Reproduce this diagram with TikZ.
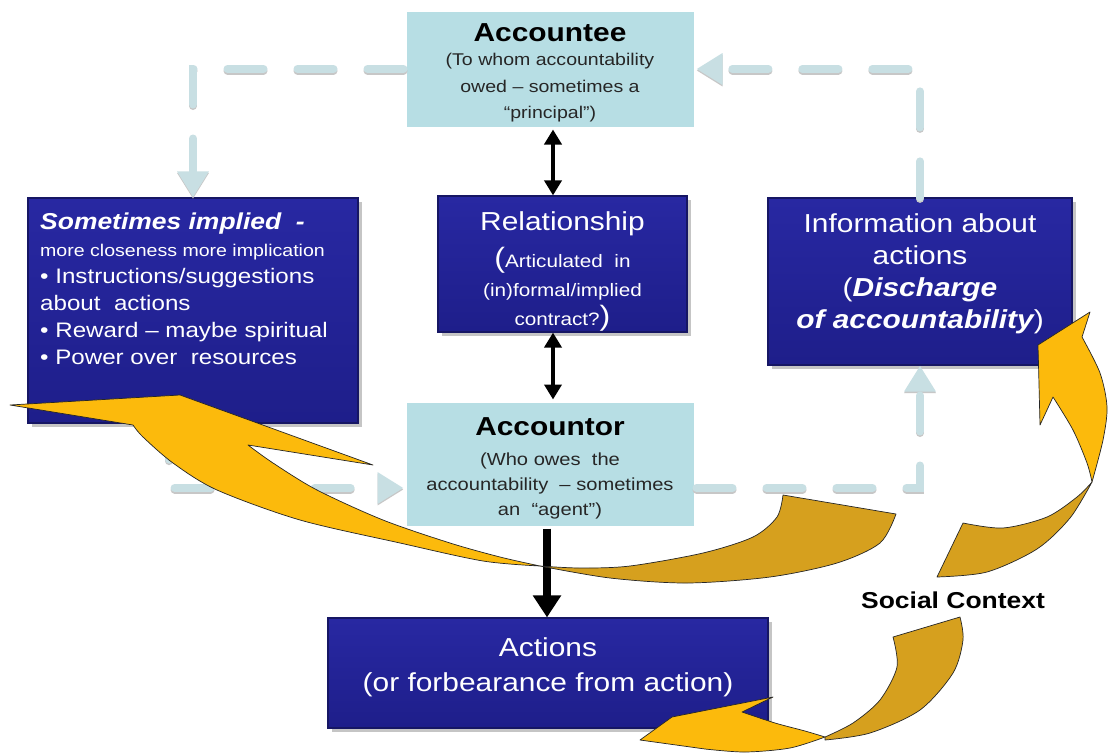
\documentclass[tikz,border=0pt]{standalone}
\usepackage{fontspec}
\setmainfont{Liberation Sans}[FakeStretch=1.15]
\usetikzlibrary{arrows.meta,shadows}
\newcommand\fsz[2]{\fontsize{#1}{#2}\selectfont}
\definecolor{lightbox}{RGB}{183,222,228}
\definecolor{dashcol}{RGB}{200,223,227}
\definecolor{blueTop}{RGB}{40,40,162}
\definecolor{blueMid}{RGB}{48,48,182}
\definecolor{blueBot}{RGB}{30,30,138}
\definecolor{blueEdge}{RGB}{22,22,100}
\definecolor{goldA}{RGB}{252,186,12}
\definecolor{goldB}{RGB}{214,160,30}
\begin{document}
\begin{tikzpicture}[x=1pt,y=-1pt,
  lightnode/.style={draw=white, line width=3pt, fill=lightbox, inner sep=0pt,
     drop shadow={shadow xshift=2pt,shadow yshift=-2pt,opacity=0.35}},
  bluenode/.style={draw=blueEdge, line width=1.2pt, top color=blueTop, middle color=blueMid,
     bottom color=blueBot, inner sep=0pt,
     drop shadow={shadow xshift=4pt,shadow yshift=-4pt,opacity=0.45}},
  darktext/.style={inner sep=0pt, align=center, text=black!85},
  whitetext/.style={inner sep=0pt, align=center, text=white},
  dashline/.style={draw=dashcol, line width=8pt, dash pattern=on 36pt off 34pt, line cap=round,
     -{Triangle[width=30pt,length=26pt,fill=dashcol]},
     preaction={draw=black!22, line width=8pt, dash pattern=on 36pt off 34pt, line cap=round,
       transform canvas={yshift=-1.5pt}, -{Triangle[width=30pt,length=26pt,fill=black!22]}}},
  dblarrow/.style={draw=black, line width=4pt,
     {Triangle[width=17pt,length=15pt]}-{Triangle[width=17pt,length=15pt]}},
  bigarrow/.style={draw=black, line width=8pt, -{Triangle[width=27pt,length=22pt]}},
  goldlight/.style={fill=goldA, draw=black!85, line width=0.7pt, line join=round},
  golddark/.style={fill=goldB, draw=black!85, line width=0.7pt, line join=round},
  labeltext/.style={inner sep=0pt, text=black}]
\useasboundingbox (0,0) rectangle (1110,753);
\fill[white] (0,0) rectangle (1110,753);

% boxes
\node[lightnode, minimum width=290, minimum height=118] (accountee) at (550,69) {};
\node[darktext, font=\fsz{17}{26.5}] (accounteetext) at ([yshift=-4pt]accountee.center)
  {{\fsz{26}{26}\bfseries\color{black}Accountee}\\[-2pt]
   (To whom accountability\\ owed – sometimes a\\ “principal”)};
\node[bluenode, minimum width=249, minimum height=136] (relationship) at (562.5,264) {};
\node[whitetext, font=\fsz{18}{29}] (relationshiptext) at ([yshift=-7pt]relationship.center)
  {{\fsz{26}{26}Relationship}\\[8pt]
   {\fsz{28}{28}(}Articulated\ \ in\\ (in)formal/implied\\ contract?{\fsz{28}{28})}};
\node[lightnode, minimum width=290, minimum height=126] (accountor) at (550,464) {};
\node[darktext, font=\fsz{17.5}{25}] (accountortext) at ([yshift=-4pt]accountor.center)
  {{\fsz{26}{26}\bfseries\color{black}Accountor}\\[5pt]
   (Who owes\ \ the\\ accountability\ \ – sometimes\\ an\ \ “agent”)};
\node[bluenode, minimum width=330, minimum height=225] (implied) at (193,310.5) {};
\node[whitetext, anchor=north west, align=left, font=\fsz{21}{27}] (impliedtext) at (40,213)
  {{\fsz{23}{27}\bfseries\itshape Sometimes implied\ \ -}\\
   {\fsz{17}{27}more closeness more implication}\\
   • Instructions/suggestions\\
   about\ \ actions\\
   • Reward – maybe spiritual\\
   • Power over\ \ resources};
\node[bluenode, minimum width=304, minimum height=167] (info) at (920,281.5) {};
\node[whitetext, font=\fsz{26}{32}] (infotext) at ([yshift=8pt]info.center)
  {Information about\\ actions\\ ({\bfseries\itshape Discharge}\\ {\bfseries\itshape of accountability})};
\node[bluenode, minimum width=440, minimum height=110] (actions) at (548,673) {};
\node[whitetext, font=\fsz{26}{35}] (actionstext) at ([yshift=6pt]actions.center)
  {Actions\\ (or forbearance from action)};

% dashed feedback loop
\draw[dashline] (accountee.west) -| (implied.north);
\draw[dashline] ([xshift=-24pt]implied.south) |- ([yshift=-24pt]accountor.west);
\draw[dashline] ([yshift=-24pt]accountor.east) -| (info.south);
\draw[dashline] (info.north) |- (accountee.east);

% black arrows
\draw[dblarrow] ([xshift=3pt]accountee.south) -- ([xshift=3pt]accountee.south |- relationship.north);
\draw[dblarrow] ([xshift=3pt]accountee.south |- relationship.south) -- ([xshift=3pt]accountor.north);
\draw[bigarrow] ([xshift=-3pt]accountor.south) -- ([xshift=-3pt]accountor.south |- actions.north);

% yellow social-context arrows
\filldraw[goldlight] (10,405) -- (180,395) -- (373,465) -- (248,445)
  -- plot[smooth] coordinates {(248,445) (273,463) (317,490) (383,520) (450,543) (500,557) (540,566)}
  -- plot[smooth] coordinates {(540,566) (483,561) (400,543) (300,520) (217,490) (173,463) (143,437) (133,425)}
  -- cycle;
\filldraw[golddark] (540,566)
  -- plot[smooth] coordinates {(540,566) (580,568) (630,566) (703,553) (753,537) (777,517) (783,495)}
  -- (896,514)
  -- plot[smooth] coordinates {(896,514) (880,543) (837,563) (770,577) (687,583) (610,578) (540,566)} -- cycle;

\filldraw[golddark] (963,523) -- (937,577)
  -- plot[smooth] coordinates {(937,577) (987,572) (1037,549) (1070,518) (1092,482)}
  -- plot[smooth] coordinates {(1092,482) (1077,497) (1047,517) (1003,528) (963,523)} -- cycle;
\filldraw[goldlight] (1038,345) -- (1090,312) -- (1082,337)
  -- plot[smooth] coordinates {(1082,337) (1100,373) (1107,407) (1103,440) (1092,482)}
  -- plot[smooth] coordinates {(1092,482) (1087,463) (1073,430) (1053,397)}
  -- (1040,425) -- cycle;

\filldraw[golddark] (825,737)
  -- plot[smooth] coordinates {(825,737) (853,723) (880,700) (897,667) (893,637)}
  -- (960,617)
  -- plot[smooth] coordinates {(960,617) (963,640) (953,673) (920,710) (870,733) (825,740)} -- cycle;
\filldraw[goldlight] (640,740) -- (672,717) -- (773,697) -- (742,712)
  -- plot[smooth] coordinates {(742,712) (775,723) (805,731) (825,737)}
  -- plot[smooth] coordinates {(825,737) (790,748) (745,752) (705,749)} -- cycle;

\node[labeltext, font=\fsz{23}{23}\bfseries] (social) at (953,600) {Social Context};
\end{tikzpicture}
\end{document}
